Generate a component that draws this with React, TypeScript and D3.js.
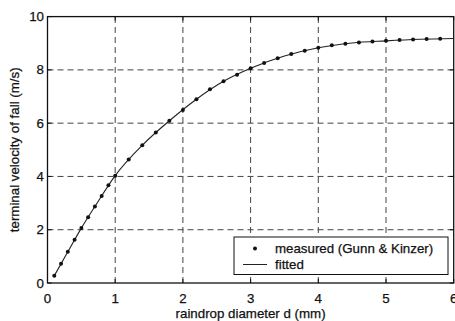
import React from 'react';
import * as d3 from 'd3';

const diameters = [
  0.1, 0.2, 0.3, 0.4, 0.5, 0.6, 0.7, 0.8, 0.9, 1.0,
  1.2, 1.4, 1.6, 1.8, 2.0, 2.2, 2.4, 2.6, 2.8, 3.0,
  3.2, 3.4, 3.6, 3.8, 4.0, 4.2, 4.4, 4.6, 4.8, 5.0,
  5.2, 5.4, 5.6, 5.8,
];
const velocities = [
  0.27, 0.72, 1.17, 1.62, 2.06, 2.47, 2.87, 3.27, 3.67, 4.03,
  4.64, 5.17, 5.65, 6.09, 6.49, 6.90, 7.27, 7.57, 7.82, 8.06,
  8.26, 8.44, 8.60, 8.72, 8.83, 8.92, 8.98, 9.03, 9.07, 9.09,
  9.12, 9.14, 9.16, 9.17,
];

// fitted curve samples
const fittedX = [0.1, 0.3, 0.5, 0.7, 1.0, 1.4, 1.8, 2.2, 2.6, 3.0, 3.5, 4.0, 4.5, 5.0, 5.5, 6.0];
const fittedY = [0.27, 1.17, 2.06, 2.87, 4.03, 5.17, 6.09, 6.90, 7.57, 8.06, 8.52, 8.83, 9.01, 9.09, 9.15, 9.18];

const xTicks = [0, 1, 2, 3, 4, 5, 6];
const yTicks = [0, 2, 4, 6, 8, 10];

const W = 455;
const H = 321;
const FONT = '"Liberation Sans", Arial, Helvetica, sans-serif';
const INK = '#111';
const FS = 13.3;

export default function App() {
  const x = d3.scaleLinear().domain([0, 6]).range([47.5, 453.7]);
  const y = d3.scaleLinear().domain([0, 10]).range([283, 16.6]);

  const measured = diameters.map((d, i) => ({ d, v: velocities[i] }));
  const fitted = fittedX.map((d, i) => ({ d, v: fittedY[i] }));

  const line = d3.line<{ d: number; v: number }>()
    .x(p => x(p.d))
    .y(p => y(p.v))
    .curve(d3.curveMonotoneX);

  const [x0, x1] = x.range();
  const [y0, y1] = y.range();

  // slight stroke to mimic the heavy scanned lettering
  const textStyle = { fontFamily: FONT, fontSize: FS, fill: INK, stroke: INK, strokeWidth: 0.25 };

  return (
    <div style={{ position: 'absolute', left: 0, top: 0 }}>
      <svg width={W} height={H} style={{ display: 'block', background: '#fff' }}>
        {/* grid */}
        <g stroke="#444" strokeWidth={1} strokeDasharray="6,4">
          {xTicks.slice(1, -1).map(t => (
            <line key={'gx' + t} x1={x(t)} x2={x(t)} y1={y0} y2={y1} />
          ))}
          {yTicks.slice(1, -1).map(t => (
            <line key={'gy' + t} x1={x0} x2={x1} y1={y(t)} y2={y(t)} />
          ))}
        </g>

        {/* frame + inward ticks */}
        <rect x={x0} y={y1} width={x1 - x0} height={y0 - y1} fill="none" stroke={INK} strokeWidth={1.3} />
        <g stroke={INK} strokeWidth={1}>
          {xTicks.map(t => (
            <g key={'tx' + t}>
              <line x1={x(t)} x2={x(t)} y1={y0} y2={y0 - 4} />
              <line x1={x(t)} x2={x(t)} y1={y1} y2={y1 + 4} />
            </g>
          ))}
          {yTicks.map(t => (
            <g key={'ty' + t}>
              <line x1={x0} x2={x0 + 4} y1={y(t)} y2={y(t)} />
              <line x1={x1} x2={x1 - 4} y1={y(t)} y2={y(t)} />
            </g>
          ))}
        </g>

        {/* fitted line */}
        <path d={line(fitted) || ''} fill="none" stroke="#222" strokeWidth={1.1} />

        {/* measured points */}
        {measured.map(p => (
          <circle key={p.d} cx={x(p.d)} cy={y(p.v)} r={2} fill={INK} />
        ))}

        {/* tick labels */}
        <g style={textStyle}>
          {xTicks.map(t => (
            <text key={'lx' + t} x={x(t)} y={303} textAnchor="middle">{t}</text>
          ))}
          {yTicks.map(t => (
            <text key={'ly' + t} x={44} y={y(t) + 4.5} textAnchor="end">{t}</text>
          ))}
        </g>

        {/* axis titles */}
        <text x={(x0 + x1) / 2} y={318} textAnchor="middle" style={textStyle}>
          raindrop diameter d (mm)
        </text>
        <text
          transform={`translate(19,${(y0 + y1) / 2}) rotate(-90)`}
          textAnchor="middle" style={textStyle}
        >
          terminal velocity of fall (m/s)
        </text>

        {/* legend */}
        <g>
          <rect x={234} y={237} width={214} height={37.5} fill="#fff" stroke={INK} strokeWidth={1} />
          <circle cx={255} cy={248.5} r={2} fill={INK} />
          <text x={275} y={253} style={textStyle}>measured (Gunn &amp; Kinzer)</text>
          <line x1={243} x2={267} y1={264.5} y2={264.5} stroke="#222" strokeWidth={1} />
          <text x={275} y={269} style={textStyle}>fitted</text>
        </g>
      </svg>
    </div>
  );
}
